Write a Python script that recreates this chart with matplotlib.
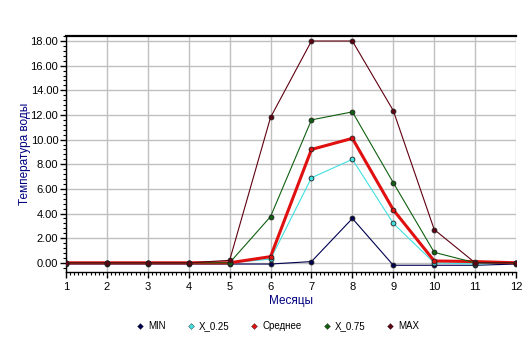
import numpy as np
import matplotlib.pyplot as plt
from matplotlib.lines import Line2D
from matplotlib.ticker import MultipleLocator, FormatStrFormatter

plt.rcParams['font.family'] = ['Liberation Sans', 'DejaVu Sans']

# Месяцы и статистики температуры воды
mesyacy = np.arange(1, 13)
t_min = [-0.1, -0.1, -0.1, -0.1, -0.1, -0.1, 0.1, 3.6, -0.2, -0.2, -0.2, -0.1]
t_q25 = [0.0, 0.0, 0.0, 0.0, 0.0, 0.3, 6.9, 8.4, 3.2, 0.0, -0.1, 0.0]
t_mean = [0.0, 0.0, 0.0, 0.0, 0.0, 0.5, 9.2, 10.1, 4.3, 0.15, 0.1, 0.0]
t_q75 = [0.0, 0.0, 0.0, 0.0, 0.0, 3.75, 11.6, 12.25, 6.5, 0.85, 0.0, 0.0]
t_max = [0.0, 0.0, 0.0, 0.0, 0.2, 11.8, 18.0, 18.0, 12.35, 2.7, 0.0, 0.0]

nazvaniya = ['MIN', 'X_0.25', 'Среднее', 'X_0.75', 'MAX']
serii = [t_min, t_q25, t_mean, t_q75, t_max]
cveta = ['#000050', '#40e0e0', '#e01010', '#106010', '#600010']
tolshina = [0.8, 0.8, 2.2, 0.8, 0.8]

fig = plt.figure(figsize=(5.32, 3.47), dpi=100)
ax = fig.add_axes([0.124, 0.216, 0.846, 0.680])

for y, c, lw in zip(serii, cveta, tolshina):
    ax.plot(mesyacy, y, color=c, lw=lw, marker='o', ms=3.5,
            mfc=c, mec='#202020', mew=0.6, zorder=3)

ax.set_xlim(1, 12)
ax.set_ylim(-0.75, 18.4)
ax.xaxis.set_major_locator(MultipleLocator(1))
ax.xaxis.set_minor_locator(MultipleLocator(0.1))
ax.yaxis.set_major_locator(MultipleLocator(2))
ax.yaxis.set_minor_locator(MultipleLocator(0.4))
ax.yaxis.set_major_formatter(FormatStrFormatter('%.2f'))
ax.grid(True, which='major', color='#c0c0c0', lw=1.0, zorder=0)
ax.set_axisbelow(True)

ax.spines['right'].set_visible(False)
ax.spines['top'].set_linewidth(1.6)
for s in ['left', 'bottom']:
    ax.spines[s].set_linewidth(1.0)
ax.tick_params(which='major', length=4, width=1, labelsize=8, colors='black')
ax.tick_params(axis='y', which='major', pad=1.5)
ax.tick_params(which='minor', length=2.5, width=0.8)

ax.set_xlabel('Месяцы', fontsize=8.5, color='#000080', labelpad=2)
ax.set_ylabel('Температура воды', fontsize=8.5, color='#000080', labelpad=0)

ruchki = [Line2D([], [], ls='none', marker='D', ms=3, color=c, mec='#303030', mew=0.3)
          for c in cveta]
fig.legend(ruchki, nazvaniya, loc='lower center', bbox_to_anchor=(0.52, 0.02),
           ncol=5, frameon=False, fontsize=7, handletextpad=0.2,
           columnspacing=2.0, handlelength=1.2)

fig.savefig('out.png', dpi=100)
